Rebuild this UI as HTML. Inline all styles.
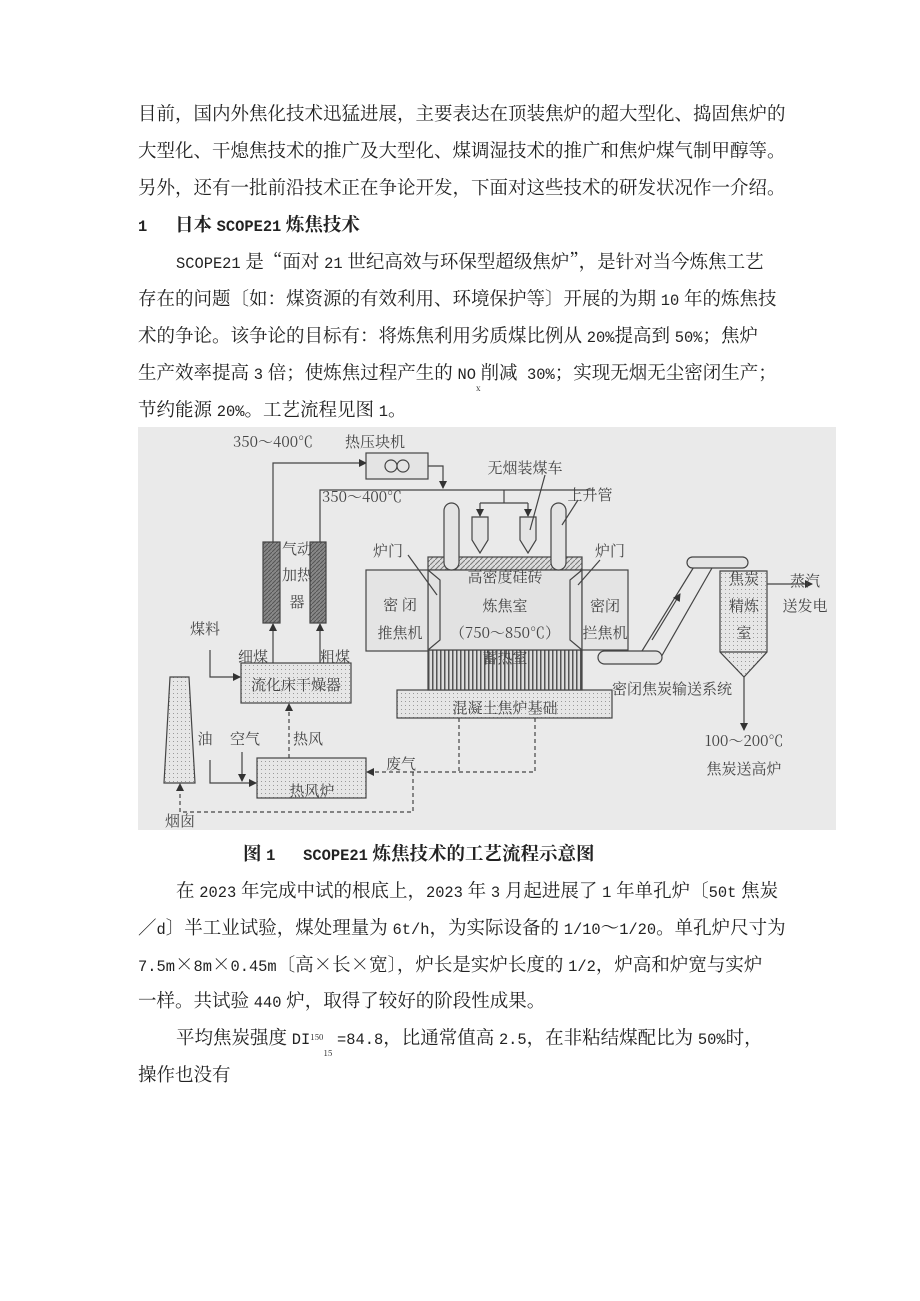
<!DOCTYPE html>
<html><head><meta charset="utf-8"><style>
body{margin:0;width:920px;height:1301px;background:#fff;position:relative;overflow:hidden;font-family:"Liberation Serif","Noto Serif CJK SC",serif;color:#222}
.l{position:absolute;left:138px;font-size:18.5px;line-height:20px;white-space:pre;font-family:"Noto Serif CJK SC",serif}
.m{font-family:"Liberation Mono",monospace;font-size:15.4px}
b{font-weight:700}
sub{font-size:8px;vertical-align:-12px}
svg text{font-family:"Noto Serif CJK SC",serif;font-size:15px;fill:#444;text-anchor:middle}
</style></head><body>
<div class="l" style="top:103px">目前，国内外焦化技术迅猛进展，主要表达在顶装焦炉的超大型化、捣固焦炉的</div>
<div class="l" style="top:140px">大型化、干熄焦技术的推广及大型化、煤调湿技术的推广和焦炉煤气制甲醇等。</div>
<div class="l" style="top:177px">另外，还有一批前沿技术正在争论开发，下面对这些技术的研发状况作一介绍。</div>
<div class="l" style="top:214px"><b><span class="m">1</span>      日本 <span class="m">SCOPE21</span> 炼焦技术</b></div>
<div class="l" style="top:251px;left:176px"><span class="m">SCOPE21</span> 是“面对 <span class="m">21</span> 世纪高效与环保型超级焦炉”，是针对当今炼焦工艺</div>
<div class="l" style="top:288px">存在的问题〔如：煤资源的有效利用、环境保护等〕开展的为期 <span class="m">10</span> 年的炼焦技</div>
<div class="l" style="top:325px">术的争论。该争论的目标有：将炼焦利用劣质煤比例从 <span class="m">20%</span>提高到 <span class="m">50%</span>；焦炉</div>
<div class="l" style="top:362px">生产效率提高 <span class="m">3</span> 倍；使炼焦过程产生的 <span class="m">NO</span><sub>x</sub>削减  <span class="m">30%</span>；实现无烟无尘密闭生产；</div>
<div class="l" style="top:399px">节约能源 <span class="m">20%</span>。工艺流程见图 <span class="m">1</span>。</div>

<svg style="position:absolute;left:0;top:0" width="920" height="1301">
<defs>
<pattern id="dots" width="4" height="4" patternUnits="userSpaceOnUse"><rect width="4" height="4" fill="#e6e6e6"/><rect x="1" y="1" width="1" height="1" fill="#999"/></pattern>
<pattern id="hatch" width="4" height="4" patternUnits="userSpaceOnUse"><rect width="4" height="4" fill="#888"/><path d="M0 4L4 0" stroke="#555"/></pattern>
<pattern id="hatch2" width="5" height="5" patternUnits="userSpaceOnUse"><rect width="5" height="5" fill="#ddd"/><path d="M0 5L5 0" stroke="#777"/></pattern>
<pattern id="vs" width="4" height="4" patternUnits="userSpaceOnUse"><rect width="4" height="4" fill="#ddd"/><rect width="1.5" height="4" fill="#555"/></pattern>
<marker id="a" markerWidth="8" markerHeight="8" refX="7" refY="4" orient="auto" markerUnits="userSpaceOnUse"><path d="M0 0L8 4L0 8z" fill="#333"/></marker>
</defs>
<rect x="138" y="427" width="698" height="403" fill="#eaeaea"/>
<g stroke="#444" stroke-width="1.2" fill="none">
<!-- top lines -->
<polyline points="273,542 273,463 366,463" marker-end="url(#a)"/>
<polyline points="428,466 443,466 443,488" marker-end="url(#a)"/>
<polyline points="320,542 320,490 595,490"/>
<polyline points="504,490 504,503"/>
<line x1="480" y1="503" x2="528" y2="503"/>
<line x1="480" y1="503" x2="480" y2="516" marker-end="url(#a)"/>
<line x1="528" y1="503" x2="528" y2="516" marker-end="url(#a)"/>
<rect x="366" y="453" width="62" height="26" fill="#e4e4e4"/>
<circle cx="391" cy="466" r="6"/><circle cx="403" cy="466" r="6"/>
<rect x="263" y="542" width="17" height="81" fill="url(#hatch)"/>
<rect x="310" y="542" width="16" height="81" fill="url(#hatch)"/>
<line x1="273" y1="663" x2="273" y2="624" marker-end="url(#a)"/>
<line x1="320" y1="663" x2="320" y2="624" marker-end="url(#a)"/>
<rect x="241" y="663" width="110" height="40" fill="url(#dots)"/>
<polyline points="210,650 210,677 240,677" marker-end="url(#a)"/>
<polygon points="170,677 189,677 195,783 164,783" fill="url(#dots)"/>
<rect x="257" y="758" width="109" height="40" fill="url(#dots)"/>
<polyline points="210,760 210,783 256,783" marker-end="url(#a)"/>
<line x1="242" y1="752" x2="242" y2="781" marker-end="url(#a)"/>
<g stroke-dasharray="4,3">
<line x1="289" y1="758" x2="289" y2="704" marker-end="url(#a)"/>
<polyline points="535,718 535,772 367,772" marker-end="url(#a)"/>
<line x1="459" y1="718" x2="459" y2="772"/>
<polyline points="413,772 413,812 180,812 180,784" marker-end="url(#a)"/>
</g>
<!-- oven -->
<rect x="397" y="690" width="215" height="28" fill="url(#dots)"/>
<rect x="428" y="650" width="154" height="40" fill="url(#vs)"/>
<rect x="428" y="557" width="154" height="13" fill="url(#hatch2)"/>
<rect x="428" y="570" width="154" height="80" fill="#e2e2e2"/>
<rect x="366" y="570" width="62" height="81" fill="#e4e4e4"/>
<rect x="582" y="570" width="46" height="80" fill="#e4e4e4"/>
<polyline points="428,570 440,580 440,640 428,650"/>
<polyline points="582,570 570,580 570,640 582,650"/>
<rect x="444" y="503" width="15" height="67" rx="7.5" fill="#e4e4e4"/>
<rect x="551" y="503" width="15" height="67" rx="7.5" fill="#e4e4e4"/>
<polygon points="472,517 488,517 488,540 480,553 472,540" fill="#e4e4e4"/>
<polygon points="520,517 536,517 536,540 528,553 520,540" fill="#e4e4e4"/>
<line x1="530" y1="530" x2="545" y2="475"/>
<line x1="562" y1="525" x2="578" y2="500"/>
<line x1="408" y1="555" x2="437" y2="595"/>
<line x1="578" y1="585" x2="600" y2="560"/>
<!-- conveyor -->
<line x1="642" y1="651" x2="700" y2="557"/>
<line x1="660" y1="659" x2="712" y2="568"/>
<line x1="652" y1="640" x2="680" y2="594" marker-end="url(#a)"/>
<rect x="598" y="651" width="64" height="13" rx="6.5" fill="#e4e4e4"/>
<rect x="687" y="557" width="61" height="11" rx="5.5" fill="#e4e4e4"/>
<polygon points="720,571 767,571 767,652 744,677 720,652" fill="url(#dots)"/>
<line x1="720" y1="652" x2="767" y2="652"/>
<line x1="744" y1="677" x2="744" y2="730" marker-end="url(#a)"/>
<line x1="767" y1="584" x2="812" y2="584" marker-end="url(#a)"/>
</g>
<text x="273" y="447">350～400℃</text>
<text x="375" y="447">热压块机</text>
<text x="362" y="502">350～400℃</text>
<text x="297" y="554">气动</text><text x="297" y="580">加热</text><text x="297" y="607">器</text>
<text x="253" y="662">细煤</text><text x="335" y="662">粗煤</text>
<text x="296" y="690">流化床干燥器</text>
<text x="205" y="634">煤料</text>
<text x="205" y="744">油</text><text x="245" y="744">空气</text><text x="308" y="744">热风</text>
<text x="312" y="796">热风炉</text>
<text x="401" y="769">废气</text>
<text x="180" y="826">烟囱</text>
<text x="525" y="473">无烟装煤车</text>
<text x="590" y="500">上升管</text>
<text x="388" y="556">炉门</text>
<text x="610" y="556">炉门</text>
<text x="505" y="582">高密度硅砖</text>
<text x="505" y="611">炼焦室</text>
<text x="505" y="638">（750～850℃）</text>
<text x="505" y="663">蓄热室</text>
<text x="505" y="713">混凝土焦炉基础</text>
<text x="400" y="610">密 闭</text><text x="400" y="638">推焦机</text>
<text x="605" y="611">密闭</text><text x="605" y="638">拦焦机</text>
<text x="672" y="694">密闭焦炭输送系统</text>
<text x="744" y="584">焦炭</text><text x="744" y="611">精炼</text><text x="744" y="638">室</text>
<text x="805" y="586">蒸汽</text><text x="805" y="611">送发电</text>
<text x="744" y="746">100～200℃</text>
<text x="744" y="774">焦炭送高炉</text>
</svg>

<div class="l" style="top:843px;left:243px"><b>图 <span class="m">1</span>      <span class="m">SCOPE21</span> 炼焦技术的工艺流程示意图</b></div>
<div class="l" style="top:880px;left:176px">在 <span class="m">2023</span> 年完成中试的根底上，<span class="m">2023</span> 年 <span class="m">3</span> 月起进展了 <span class="m">1</span> 年单孔炉〔<span class="m">50t</span> 焦炭</div>
<div class="l" style="top:917px">／<span class="m">d</span>〕半工业试验，煤处理量为 <span class="m">6t/h</span>，为实际设备的 <span class="m">1/10</span>～<span class="m">1/20</span>。单孔炉尺寸为</div>
<div class="l" style="top:954px"><span class="m">7.5m</span>×<span class="m">8m</span>×<span class="m">0.45m</span>〔高×长×宽〕，炉长是实炉长度的 <span class="m">1/2</span>，炉高和炉宽与实炉</div>
<div class="l" style="top:990px">一样。共试验 <span class="m">440</span> 炉，取得了较好的阶段性成果。</div>
<div class="l" style="top:1027px;left:176px">平均焦炭强度 <span class="m">DI</span><span style="font-size:8px;vertical-align:4px">150</span><sub>15</sub> <span class="m">=84.8</span>，比通常值高 <span class="m">2.5</span>，在非粘结煤配比为 <span class="m">50%</span>时，</div>
<div class="l" style="top:1064px">操作也没有</div>
</body></html>
